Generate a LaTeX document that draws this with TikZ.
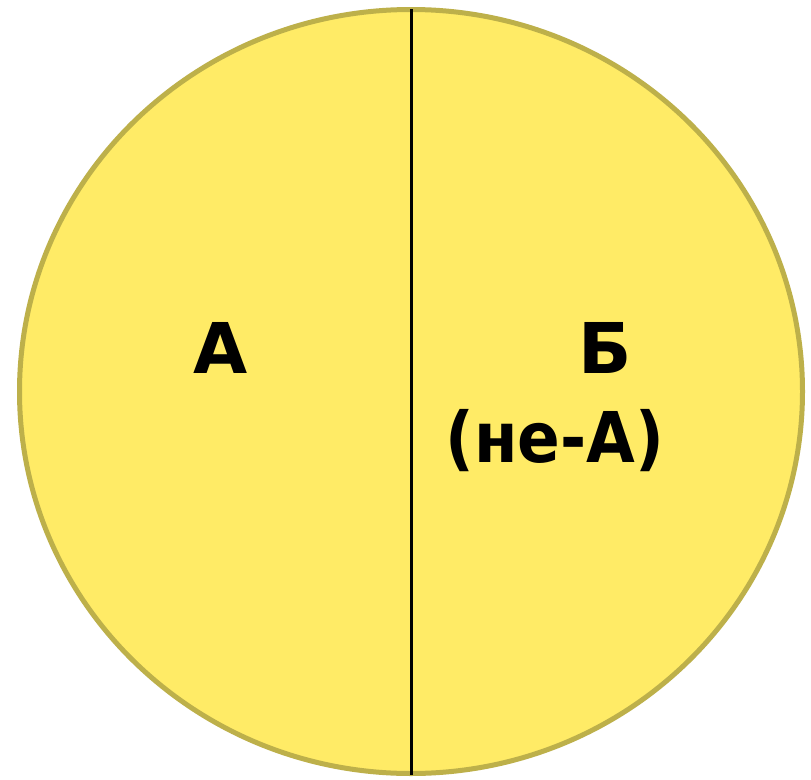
\documentclass[tikz,border=0pt]{standalone}
\usepackage{fontspec}
\setmainfont{DejaVu Sans}
\definecolor{disc}{HTML}{FFEB66}
\definecolor{rim}{HTML}{BDB04A}
\begin{document}
\begin{tikzpicture}[x=1pt,y=-1pt,
  lbl/.style={anchor=base,inner sep=0pt,font=\fontsize{70}{80}\selectfont\bfseries,text=black}]
\useasboundingbox (0,0) rectangle (811,779);
\fill[white] (0,0) rectangle (811,779);
\draw[rim,fill=disc,line width=5pt] (411,391.5) ellipse [x radius=391.5,y radius=382];
\coordinate (top) at (411.5,9);
\coordinate (bot) at (411.5,775);
\draw[black,line width=2.4pt] (top) -- (bot);
\node[lbl] (a) at (221,373) {А};
\node[lbl] (b) at (605,373) {Б};
\node[lbl,xscale=0.9] (nea) at (555,462) {(не-А)};
\end{tikzpicture}
\end{document}
